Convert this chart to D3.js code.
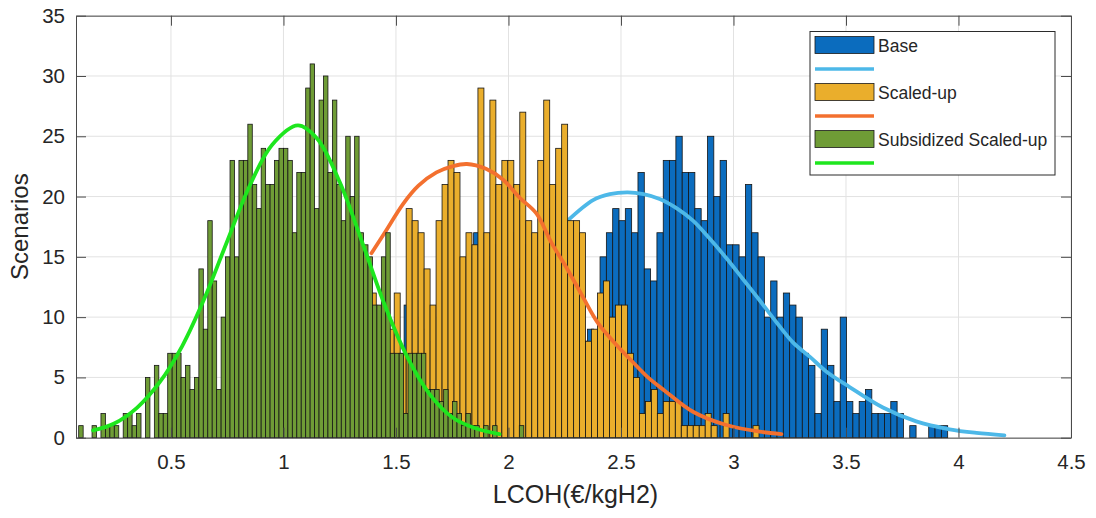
<!DOCTYPE html>
<html>
<head>
<meta charset="utf-8">
<script src="https://cdn.jsdelivr.net/npm/d3@7"></script>
<style>
  html, body { margin: 0; padding: 0; background: #fff; }
  svg { display: block; font-family: "Liberation Sans", Arial, sans-serif; }
</style>
</head>
<body>
<div id="chart"></div>
<script>
// ---- data ----
const xTicks = [0.5, 1, 1.5, 2, 2.5, 3, 3.5, 4, 4.5];
const yTicks = [0, 5, 10, 15, 20, 25, 30, 35];
const seriesNames = ["Base", "Scaled-up", "Subsidized Scaled-up"];

// histogram bins: first edge, bin width, counts per bin
const baseBinStart = 1.48;
const baseBinWidth = 0.02809;
const baseCounts = [
  4, 5, 11, 12, 10, 9, 8, 10, 13, 14, 12, 13, 15, 17, 14, 15, 16, 18, 15, 17,
  14, 16, 13, 15, 18, 19, 20, 16, 14, 15, 8, 9, 8,
  15, 17, 19, 18, 19, 17, 22, 14, 13, 17, 23, 23, 25, 22, 22, 19, 18, 25, 20, 23,
  16, 16, 15, 21, 17, 15, 10, 13, 10, 12, 11, 10, 7, 6, 2, 9, 6, 3, 10, 3,
  2, 3, 4, 2, 2, 2, 3, 2, 0, 1, 0, 0, 1, 1, 1
];

const scaledBinStart = 1.3327;
const scaledBinWidth = 0.02658;
const scaledCounts = [
  16, 13, 12, 10, 11, 9, 12, 7, 19, 18, 17, 14, 11, 18, 21, 23, 22, 15, 17, 16,
  29, 17, 28, 21, 23, 23, 21, 27, 18, 17, 23, 28, 21, 24, 26, 18, 18, 17, 8, 9,
  12, 13, 10, 11, 11, 7, 5, 2, 3, 4, 2, 3, 3, 3, 1, 1, 1, 1, 2, 1,
  0, 2, 0, 0, 0, 0, 1
];

const subsBinStart = 0.09;
const subsBinWidth = 0.01978;
const subsCounts = [
  1, 0, 0, 1, 0, 2, 1, 1, 1, 0, 2, 2, 1, 2, 0, 5, 0, 6, 2, 2,
  7, 7, 7, 5, 6, 4, 5, 14, 9, 18, 13, 4, 10, 15, 23, 15, 23, 23, 26, 21,
  19, 24, 21, 21, 23, 24, 24, 23, 17, 22, 22, 29, 31, 19, 28, 30, 22, 28, 21, 18,
  25, 20, 25, 17, 16, 15, 11, 11, 15, 17, 7, 7, 7, 2, 7, 7, 7, 7, 4, 4,
  4, 3, 4, 2, 3, 2, 1, 2, 1, 1, 0, 1, 0, 1, 0, 0, 0, 0, 0, 1
];

// fitted curves, [LCOH, scenarios]
const baseFit = [
  [2.263, 18.0], [2.376, 19.7], [2.45, 20.2], [2.53, 20.35], [2.6, 20.2],
  [2.672, 19.8], [2.75, 19.0], [2.82, 18.0], [2.89, 16.6], [2.968, 14.9],
  [3.04, 13.2], [3.116, 11.4], [3.19, 9.6], [3.264, 7.9], [3.34, 6.7],
  [3.412, 5.5], [3.516, 4.2], [3.664, 2.5], [3.812, 1.35], [3.96, 0.7],
  [4.08, 0.4], [4.204, 0.2]
];
const scaledFit = [
  [1.391, 15.3], [1.45, 17.0], [1.532, 19.4], [1.6, 20.9], [1.68, 22.0],
  [1.75, 22.5], [1.815, 22.7], [1.9, 22.3], [1.976, 21.4], [2.05, 19.9],
  [2.124, 18.6], [2.19, 16.2], [2.258, 14.1], [2.33, 11.7], [2.398, 9.5],
  [2.47, 7.9], [2.546, 6.4], [2.62, 5.0], [2.694, 3.9], [2.82, 2.15],
  [2.968, 1.05], [3.116, 0.5], [3.213, 0.3]
];
const subsFit = [
  [0.154, 0.6], [0.25, 1.2], [0.35, 2.5], [0.45, 4.6], [0.55, 7.6],
  [0.65, 11.6], [0.75, 16.3], [0.85, 20.9], [0.95, 24.3], [1.064, 25.9],
  [1.15, 24.8], [1.25, 21.2], [1.35, 16.2], [1.45, 11.0], [1.55, 6.7],
  [1.65, 3.6], [1.75, 1.7], [1.85, 0.8], [1.96, 0.3]
];

// ---- chart ----
const colors = {
  base: "#0b6cbe",
  baseFit: "#4db8e8",
  scaled: "#eaae2c",
  scaledFit: "#f3702f",
  subs: "#6f9c36",
  subsFit: "#1ee61e",
  grid: "#e2e2e2",
  axis: "#4a4a4a",
  text: "#262626",
};

const width = 1096;
const height = 518;
const plot = { left: 76, right: 1071, top: 15.7, bottom: 437.7 };

const svg = d3.select("#chart").append("svg")
  .attr("width", width)
  .attr("height", height);

const x = d3.scaleLinear().domain([0.078, 4.5]).range([plot.left, plot.right]);
const y = d3.scaleLinear().domain([0, 35]).range([plot.bottom, plot.top]);

// grid behind the data
const grid = svg.append("g").attr("stroke", colors.grid).attr("stroke-width", 1);
grid.selectAll(".gx").data(xTicks).join("line")
  .attr("x1", d => x(d)).attr("x2", d => x(d))
  .attr("y1", plot.top).attr("y2", plot.bottom);
grid.selectAll(".gy").data(yTicks).join("line")
  .attr("x1", plot.left).attr("x2", plot.right)
  .attr("y1", d => y(d)).attr("y2", d => y(d));

function bins(start, binWidth, counts) {
  return counts
    .map((n, i) => ({ x0: start + i * binWidth, x1: start + (i + 1) * binWidth, n }))
    .filter(d => d.n > 0);
}

function drawBars(data, fill) {
  svg.append("g")
    .attr("fill", fill)
    .attr("stroke", "#151515")
    .attr("stroke-width", 0.8)
    .selectAll("rect")
    .data(data)
    .join("rect")
    .attr("x", d => x(d.x0))
    .attr("width", d => x(d.x1) - x(d.x0))
    .attr("y", d => y(d.n))
    .attr("height", d => y(0) - y(d.n));
}

const fitLine = d3.line()
  .x(d => x(d[0]))
  .y(d => y(d[1]))
  .curve(d3.curveCatmullRom.alpha(0.5));

function drawFit(points, stroke) {
  svg.append("path")
    .datum(points)
    .attr("fill", "none")
    .attr("stroke", stroke)
    .attr("stroke-width", 3.8)
    .attr("stroke-linecap", "round")
    .attr("d", fitLine);
}

// same order as the plotted layers: base, scaled-up, subsidized on top
drawBars(bins(baseBinStart, baseBinWidth, baseCounts), colors.base);
drawFit(baseFit, colors.baseFit);
drawBars(bins(scaledBinStart, scaledBinWidth, scaledCounts), colors.scaled);
drawFit(scaledFit, colors.scaledFit);
drawBars(bins(subsBinStart, subsBinWidth, subsCounts), colors.subs);
drawFit(subsFit, colors.subsFit);

// axes, ticks pointing inside the box
const tickLen = 10;
const gx = svg.append("g")
  .attr("transform", `translate(0,${plot.bottom})`)
  .call(d3.axisBottom(x).tickValues(xTicks).tickFormat(d3.format("")).tickSizeInner(-tickLen).tickSizeOuter(0).tickPadding(17));
const gy = svg.append("g")
  .attr("transform", `translate(${plot.left},0)`)
  .call(d3.axisLeft(y).tickValues(yTicks).tickSizeInner(-tickLen).tickSizeOuter(0).tickPadding(11));
const gt = svg.append("g")
  .attr("transform", `translate(0,${plot.top})`)
  .call(d3.axisTop(x).tickValues(xTicks).tickFormat("").tickSizeInner(-tickLen).tickSizeOuter(0));
const gr = svg.append("g")
  .attr("transform", `translate(${plot.right},0)`)
  .call(d3.axisRight(y).tickValues(yTicks).tickFormat("").tickSizeInner(-tickLen).tickSizeOuter(0));

[gx, gy, gt, gr].forEach(g => {
  g.selectAll("path, line").attr("stroke", colors.axis);
  g.selectAll("text")
    .attr("fill", colors.text)
    .style("font-size", "20.5px")
    .style("font-family", "'Liberation Sans', Arial, sans-serif");
});

svg.append("text")
  .attr("x", (plot.left + plot.right) / 2 + 2)
  .attr("y", 503)
  .attr("text-anchor", "middle")
  .attr("fill", colors.text)
  .style("font-size", "25px")
  .text("LCOH(€/kgH2)");

svg.append("text")
  .attr("transform", `translate(28,${(plot.top + plot.bottom) / 2}) rotate(-90)`)
  .attr("text-anchor", "middle")
  .attr("fill", colors.text)
  .style("font-size", "24px")
  .text("Scenarios");

// legend
const legendItems = [
  { name: seriesNames[0], fill: colors.base, line: colors.baseFit },
  { name: seriesNames[1], fill: colors.scaled, line: colors.scaledFit },
  { name: seriesNames[2], fill: colors.subs, line: colors.subsFit },
];
const legend = svg.append("g").attr("transform", "translate(810,31.5)");
legend.append("rect")
  .attr("width", 245).attr("height", 143.5)
  .attr("fill", "#fff").attr("stroke", "#2b2b2b").attr("stroke-width", 1);

const entry = legend.selectAll("g.entry").data(legendItems).join("g")
  .attr("class", "entry")
  .attr("transform", (d, i) => `translate(5,${5 + i * 47})`);
entry.append("rect")
  .attr("width", 59).attr("height", 17)
  .attr("fill", d => d.fill).attr("stroke", "#1a1a1a").attr("stroke-width", 0.8);
entry.append("text")
  .attr("x", 63).attr("y", 9)
  .attr("dy", "0.35em")
  .attr("fill", colors.text)
  .style("font-size", "17.5px")
  .text(d => d.name);
entry.append("line")
  .attr("x1", 0).attr("x2", 59)
  .attr("y1", 32.5).attr("y2", 32.5)
  .attr("stroke", d => d.line).attr("stroke-width", 3.5);
</script>
</body>
</html>
